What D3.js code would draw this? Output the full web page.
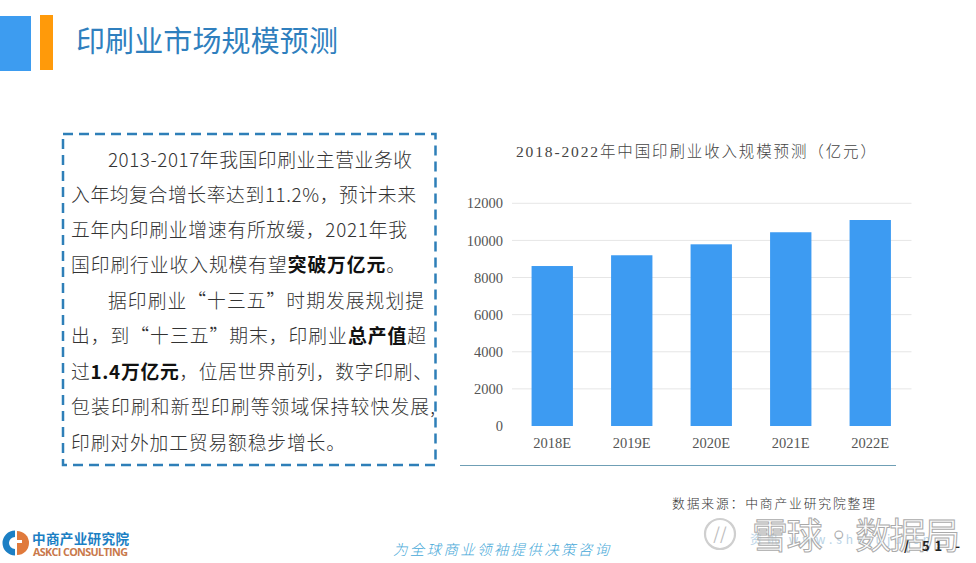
<!DOCTYPE html>
<html><head><meta charset="utf-8">
<script src="https://cdnjs.cloudflare.com/ajax/libs/d3/7.8.5/d3.min.js"></script>
<style>
html,body{margin:0;padding:0;background:#fff;overflow:hidden}
svg{display:block}
text{font-family:"Noto Sans CJK SC","Noto Sans",sans-serif}
</style></head><body><svg id="c" width="976" height="563"></svg>
<script>
const categories=["2018E","2019E","2020E","2021E","2022E"];
const revenue=[8620,9200,9790,10440,11100];
const yTicks=[0,2000,4000,6000,8000,10000,12000];
const chartTitle="2018-2022年中国印刷业收入规模预测（亿元）";
const pageTitle="印刷业市场规模预测";
const source="数据来源：中商产业研究院整理";
const slogan="为全球商业领袖提供决策咨询";
const para=[
 [[ "2013-2017年我国印刷业主营业务收",0]],
 [[ "入年均复合增长率达到11.2%，预计未来",0]],
 [[ "五年内印刷业增速有所放缓，2021年我",0]],
 [[ "国印刷行业收入规模有望",0],["突破万亿元",1],["。",0]],
 [[ "据印刷业“十三五”时期发展规划提",0]],
 [[ "出，到“十三五”期末，印刷业",0],["总产值",1],["超",0]],
 [[ "过",0],["1.4万亿元",1],["，位居世界前列，数字印刷、",0]],
 [[ "包装印刷和新型印刷等领域保持较快发展,",0]],
 [[ "印刷对外加工贸易额稳步增长。",0]]
];
const paraX=[108,71,71,71,108,71,71,71,71];
const paraY=[167,202,237,272,308,343,379,414,450];
const paraEnd=[412,416,407,405,424,426,432,435,345];

const svg=d3.select("#c");
// header
svg.append("rect").attr("x",0).attr("y",16).attr("width",31).attr("height",55).attr("fill","#3d9cf0");
svg.append("rect").attr("x",40).attr("y",15).attr("width",13).attr("height",55).attr("fill","#ff9a0a");
svg.append("text").attr("x",76).attr("y",52).attr("font-size",29).attr("font-weight",400).attr("fill","#2f7fbe").attr("textLength",262).text(pageTitle);

// text box
svg.append("rect").attr("x",63).attr("y",134).attr("width",372.5).attr("height",331)
 .attr("fill","none").attr("stroke","#2e7fb8").attr("stroke-width",2.5).attr("stroke-dasharray","10 6");
const t=svg.append("g").attr("font-size",18.8).attr("fill","#262626");
para.forEach((line,i)=>{
 const tx=t.append("text").attr("x",paraX[i]).attr("y",paraY[i]).attr("textLength",paraEnd[i]-paraX[i]).attr("lengthAdjust","spacing");
 line.forEach(([s,b])=>tx.append("tspan").attr("font-weight",b?700:300).attr("fill",b?"#111":"#333").text(s));
});

// chart
const x=d3.scaleBand().domain(categories).range([512.5,910]).paddingInner(.48).paddingOuter(.24);
const y=d3.scaleLinear().domain([0,12000]).range([426,203.3]);
const grid=svg.append("g");
grid.selectAll("line").data(yTicks.filter(v=>v>0)).join("line")
 .attr("x1",512).attr("x2",911.5).attr("y1",d=>y(d)).attr("y2",d=>y(d))
 .attr("stroke","#e6e6e6").attr("stroke-width",1);
svg.append("g").selectAll("rect").data(revenue).join("rect")
 .attr("x",(d,i)=>x(categories[i])).attr("width",x.bandwidth())
 .attr("y",d=>y(d)).attr("height",d=>y(0)-y(d)).attr("fill","#3d9bf2");
const serif='"Liberation Serif","Noto Sans CJK SC",serif';
const ya=svg.append("g").attr("transform","translate(503,0)").call(d3.axisLeft(y).tickValues(yTicks).tickSize(0).tickPadding(0).tickFormat(d3.format("d")));
ya.select(".domain").remove();
ya.selectAll("text").attr("font-size",14.5).attr("fill","#555").style("font-family",serif);
const xa=svg.append("g").attr("transform","translate(0,426)").call(d3.axisBottom(x).tickSize(0).tickPadding(12));
xa.select(".domain").remove();
xa.selectAll("text").attr("font-size",14.5).attr("fill","#555").style("font-family",serif);
svg.append("text").attr("x",516).attr("y",157).attr("font-size",15.5)
 .attr("fill","#444").attr("font-weight",300).attr("textLength",360).style("font-family",serif).text(chartTitle);
svg.append("line").attr("x1",460).attr("x2",896).attr("y1",465.5).attr("y2",465.5).attr("stroke","#6f9fb5").attr("stroke-width",1.2);
svg.append("text").attr("x",672).attr("y",508).attr("font-size",12.8).attr("font-weight",300).attr("fill","#333").attr("textLength",203).text(source);

// logo
const logo=svg.append("g");
const arc=d3.arc();
logo.append("path").attr("transform","translate(15,543)").attr("d",arc({innerRadius:6,outerRadius:12.5,startAngle:Math.PI,endAngle:2*Math.PI})).attr("fill","#1c7fc4");
logo.append("path").attr("transform","translate(17,543)").attr("d",arc({innerRadius:0,outerRadius:12,startAngle:0,endAngle:Math.PI})).attr("fill","#e07a3c");
logo.append("rect").attr("x",14).attr("y",540).attr("width",8).attr("height",3).attr("fill","#fff");
logo.append("text").attr("x",32).attr("y",544).attr("font-size",13.6).attr("font-weight",700).attr("fill","#1c7fc4").attr("textLength",97).text("中商产业研究院");
logo.append("text").attr("x",33).attr("y",556).attr("font-size",10.8).attr("font-weight",700).attr("fill","#c9794b").attr("textLength",95).style("font-family","'Open Sans'").text("ASKCI CONSULTING");

svg.append("text").attr("x",393).attr("y",555).attr("font-size",14.5).attr("font-weight",300).attr("fill","#45a8d8").attr("font-style","italic").attr("textLength",216).text(slogan);

// watermark
const wm=svg.append("g");
wm.append("text").attr("x",750).attr("y",544).attr("font-size",12).attr("fill","#b9d3e6").attr("textLength",180).text("资讯 www.shujuju.cn");
wm.append("circle").attr("cx",720).attr("cy",534).attr("r",15).attr("fill","none").attr("stroke","#cfcfcf").attr("stroke-width",2.2);
wm.append("text").attr("x",720).attr("y",540).attr("text-anchor","middle").attr("font-size",17).attr("fill","#bdbdbd").text("//");
wm.append("text").attr("x",752).attr("y",549).attr("font-size",36).attr("font-weight",400).attr("fill","#fff").attr("fill-opacity",.55).attr("stroke","#aaa").attr("stroke-width",1).attr("textLength",208).text("雪球·数据局");
wm.append("text").attr("x",904).attr("y",551).attr("font-size",13).attr("font-weight",700).attr("fill","#222").attr("textLength",56).text("/ 51 -");
</script></body></html>
